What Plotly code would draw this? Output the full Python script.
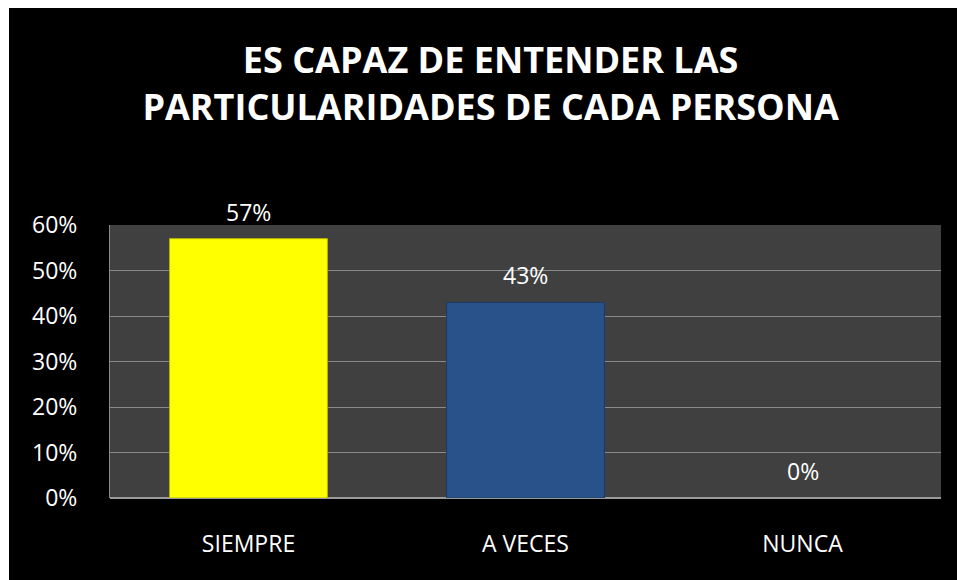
import plotly.graph_objects as go

categorias = ['SIEMPRE', 'A VECES', 'NUNCA']
valores = [0.57, 0.43, 0.0]
etiquetas = ['57%', '43%', '0%']
colores = ['#FFFF00', '#285289', '#404040']
bordes = ['#B8B800', '#1C3A63', '#404040']
grosor_borde = [1, 1, 0]
ticks_y = [0, 0.1, 0.2, 0.3, 0.4, 0.5, 0.6]
ticks_txt = ['0%', '10%', '20%', '30%', '40%', '50%', '60%']

fig = go.Figure()
fig.add_trace(go.Bar(
    x=categorias,
    y=valores,
    marker=dict(color=colores, line=dict(color=bordes, width=grosor_borde)),
    hoverinfo='skip'
))

# etiquetas de datos encima de cada barra
for cat, val, txt in zip(categorias, valores, etiquetas):
    fig.add_annotation(
        x=cat, y=val, text=txt, showarrow=False,
        yanchor='middle', yshift=27,
        font=dict(family='Open Sans', size=23, color='white')
    )

fig.update_layout(
    width=948, height=572,
    paper_bgcolor='black',
    plot_bgcolor='#404040',
    margin=dict(l=101, r=16, t=217, b=82),
    bargap=0.43,
    showlegend=False,
    font=dict(family='Open Sans', color='white'),
    title=dict(
        text='<b>ES CAPAZ DE ENTENDER LAS<br>PARTICULARIDADES DE CADA PERSONA</b>',
        x=0.458, xanchor='center', xref='paper',
        y=0.886, yanchor='middle', yref='container',
        font=dict(family='Open Sans', size=36, color='white')
    ),
    xaxis=dict(
        showgrid=False, zeroline=False,
        tickfont=dict(size=23, color='white'),
        ticklabelstandoff=30
    ),
    yaxis=dict(
        range=[0, 0.6],
        tickvals=ticks_y, ticktext=ticks_txt,
        showgrid=True, gridcolor='#8A8A8A', gridwidth=1,
        zeroline=True, zerolinecolor='#9A9A9A', zerolinewidth=2,
        showline=True, linecolor='#8A8A8A', linewidth=1,
        tickfont=dict(size=23, color='white'),
        ticklabelstandoff=27
    )
)

fig.write_html(
    "out.html",
    post_script="document.body.style.margin='8px 0 0 9px';"
                "document.body.style.overflow='hidden';"
                "document.documentElement.style.overflow='hidden';"
)
